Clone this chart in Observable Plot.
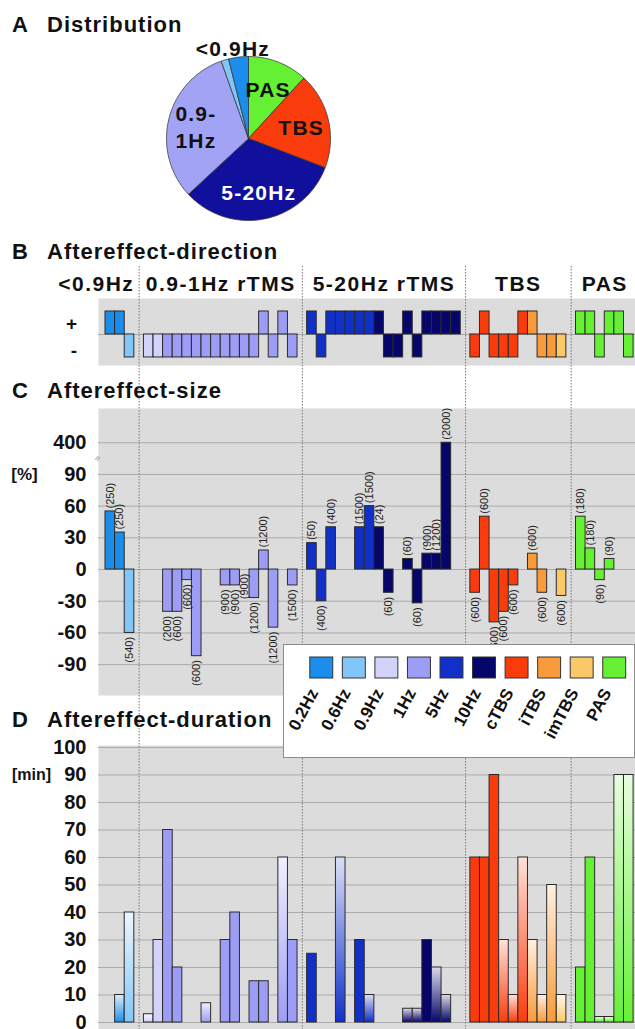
<!DOCTYPE html>
<html><head><meta charset="utf-8">
<script src="https://cdn.jsdelivr.net/npm/d3@7"></script>
<script src="https://cdn.jsdelivr.net/npm/@observablehq/plot@0.6"></script>
<style>
html,body{margin:0;padding:0;background:#fff;}
#page{position:relative;width:635px;height:1029px;overflow:hidden;font-family:"Liberation Sans",Arial,Helvetica,sans-serif;color:#111;}
.layer{position:absolute;left:0;}
.layer svg{overflow:visible;display:block;}
.title{position:absolute;font-weight:bold;font-size:22px;line-height:1;white-space:nowrap;letter-spacing:1px;color:#111;}
#legend{position:absolute;left:283px;top:644px;width:350px;height:112px;border:1px solid #8c8c8c;background:#fff;}
#legend svg{display:block;overflow:visible;}
</style></head><body><div id="page"></div>
<script>
// ---------------- DATA ----------------
const typeNames  = ["0.2Hz","0.6Hz","0.9Hz","1Hz","5Hz","10Hz","cTBS","iTBS","imTBS","PAS"];
const typeColors = ["#1a8eea","#82c6f8","#d2d2fb","#9d9df5","#1030c8","#06066a","#fa3c0c","#f99b3a","#fbc869","#66f034"];

// study type per x slot (null = gap between groups)
const studyType = [
  "0.2Hz","0.2Hz","0.6Hz", null,
  "0.9Hz","0.9Hz","1Hz","1Hz","1Hz","1Hz","1Hz","1Hz","1Hz","1Hz","1Hz","1Hz","1Hz","1Hz","1Hz","1Hz", null,
  "5Hz","5Hz","5Hz","5Hz","5Hz","5Hz","5Hz","10Hz","10Hz","10Hz","10Hz","10Hz","10Hz","10Hz","10Hz","10Hz", null,
  "cTBS","cTBS","cTBS","cTBS","cTBS","cTBS","iTBS","iTBS","iTBS","imTBS", null,
  "PAS","PAS","PAS","PAS","PAS","PAS"
];

const groupNames = ["<0.9Hz","0.9-1Hz rTMS","5-20Hz rTMS","TBS","PAS"];
const groupFirst = [0, 4, 21, 38, 49];
const groupLast  = [2, 19, 36, 47, 54];

// B: aftereffect direction (+1 / -1)
const direction = [
  1,1,-1, null,
  -1,-1,-1,-1,-1,-1,-1,-1,-1,-1,-1,-1,1,-1,1,-1, null,
  1,-1,1,1,1,1,1,1,-1,-1,1,-1,1,1,1,1, null,
  -1,1,-1,-1,-1,1,1,-1,-1,-1, null,
  1,1,-1,1,1,-1
];
const dirTickLabels = ["+","-"];

// C: aftereffect size [%] with number of stimuli
const sizeSlots   = [0,1,2, 6,7,8,9,12,13,14,15,16,17,19, 21,22,23,26,27,28,29,31,32,33,34,35, 38,39,40,41,42,44,45,47, 49,50,51,52];
const sizeValues  = [55,35,-60, -40,-40,-10,-82,-15,-15,0,-27,18,-55,-15, 25,-30,40,40,60,40,-22,10,-32,15,15,400, -22,50,-50,-40,-15,15,-22,-25, 50,20,-10,10];
const sizeStimuli = ["(250)","(250)","(540)", "(200)","(600)","(600)","(600)","(900)","(900)","(900)","(1200)","(1200)","(1200)","(1500)",
  "(50)","(400)","(400)","(1500)","(1500)","(24)","(60)","(60)","(60)","(900)","(1200)","(2000)",
  "(600)","(600)","(600)","(600)","(600)","(600)","(600)","(600)", "(180)","(180)","(90)","(90)"];
const sizeTicks = [-90,-60,-30,0,30,60,90,400];
const sizeUnit = "[%]";

// D: aftereffect duration [min]; open = shown faded
const durSlots  = [1,2,4,5,6,7,10,12,13,15,16,18,19, 21,24,26,27,31,32,33,34,35, 38,39,40,41,42,43,44,45,46,47, 49,50,51,52,53,54];
const durValues = [10,40,3,30,70,20,7,30,40,15,15,60,30, 25,60,30,10,5,5,30,20,10, 60,60,90,30,10,60,30,10,50,10, 20,60,2,2,90,90];
const durOpen   = [1,1,1,0,0,0,1,0,0,0,0,1,0, 0,1,0,1,1,1,0,1,1, 0,0,0,1,1,1,1,1,1,1, 0,0,1,1,1,1];
const durTicks = [0,10,20,30,40,50,60,70,80,90,100];
const durUnit = "[min]";

// A: distribution (share of studies, clockwise from top)
const pieNames  = ["PAS","TBS","5-20Hz","0.9-1Hz","0.6Hz","0.2Hz"];
const pieShares = [11.8, 19.0, 32.3, 31.5, 1.5, 3.9];
const pieColors = ["#66f034","#fa3c0c","#10109c","#a3a3f5","#82c6f8","#1a8eea"];
const pieLabels = ["PAS","TBS","5-20Hz","0.9-\n1Hz","<0.9Hz","<0.9Hz"];

// ---------------- HELPERS ----------------
const FONT = '"Liberation Sans", Arial, Helvetica, sans-serif';
const page = document.getElementById("page");
const colorOf = t => typeColors[typeNames.indexOf(t)];
function place(node, left, top) {
  const div = document.createElement("div");
  div.className = "layer"; div.style.left = left + "px"; div.style.top = top + "px";
  div.appendChild(node); page.appendChild(div); return div;
}
function title(letter, text, baseline) {
  const top = baseline - 18.6;
  [[letter, 12], [text, 47]].forEach(([s, x]) => {
    const d = document.createElement("div");
    d.className = "title"; d.style.left = x + "px"; d.style.top = top + "px"; d.textContent = s;
    page.appendChild(d);
  });
}
const xScale = {domain: [-0.73, 55.2], axis: null};
const brk = v => v <= 90 ? v : 90 + (v - 90) * 30 / 310;   // broken axis above 90
const groups = groupNames.map((n, i) => ({name: n, first: groupFirst[i], last: groupLast[i]}));
const separators = groups.slice(0, -1).map(g => g.last + 1.5);

// ---------------- A: PIE ----------------
{
  const R = 100 / 82;
  const arcs = d3.pie().sort(null)(pieShares);
  const sliceMarks = arcs.map((a, i) => {
    const pts = [{x: 0, y: 0}];
    const n = Math.max(2, Math.ceil((a.endAngle - a.startAngle) / 0.02));
    for (let k = 0; k <= n; k++) {
      const t = a.startAngle + (a.endAngle - a.startAngle) * k / n;
      pts.push({x: Math.sin(t), y: Math.cos(t)});
    }
    pts.push({x: 0, y: 0});
    return Plot.line(pts, {x: "x", y: "y", fill: pieColors[i], stroke: "#3a3a3a", strokeWidth: 0.8, strokeLinejoin: "round"});
  });
  const labelGroups = [];
  pieLabels.forEach((lab, i) => {
    let g = labelGroups.find(d => d.text === lab);
    if (!g) { g = {text: lab, a0: arcs[i].startAngle, a1: arcs[i].endAngle, share: 0, color: pieColors[i]}; labelGroups.push(g); }
    g.a0 = Math.min(g.a0, arcs[i].startAngle); g.a1 = Math.max(g.a1, arcs[i].endAngle); g.share += pieShares[i];
  });
  labelGroups.forEach(g => {
    const m = (g.a0 + g.a1) / 2, r = g.share < 8 ? 1.13 : 0.66;
    g.x = Math.sin(m) * r; g.y = Math.cos(m) * r;
    g.fill = (g.share < 8 || d3.hsl(g.color).l > 0.4) ? "#111" : "#fff";
  });
  const pie = Plot.plot({
    width: 200, height: 200, margin: 0,
    x: {domain: [-R, R], axis: null}, y: {domain: [-R, R], axis: null},
    color: {type: "identity"},
    style: {fontFamily: FONT, overflow: "visible", letterSpacing: "1.2px"},
    marks: [
      ...sliceMarks,
      Plot.text(labelGroups, {x: "x", y: "y", text: "text", fill: "fill", fontSize: 21, fontWeight: "bold", lineHeight: 1.3})
    ]
  });
  place(pie, 148, 38);
}
title("A", "Distribution", 33);

// ---------------- B: DIRECTION ----------------
title("B", "Aftereffect-direction", 260);
{
  const dirData = direction.map((d, i) => ({slot: i, dir: d, type: studyType[i]})).filter(d => d.dir != null);
  const B = Plot.plot({
    width: 635, height: 97, marginLeft: 98, marginRight: 0, marginTop: 30, marginBottom: 0,
    x: xScale,
    y: {domain: [-1.35, 1.565], ticks: [0.45, -0.7], tickFormat: d => d > 0 ? dirTickLabels[0] : dirTickLabels[1], tickSize: 0, tickPadding: 20, label: null},
    color: {type: "identity"},
    style: {fontFamily: FONT, fontSize: "19px", fontWeight: "bold", letterSpacing: "1.5px", overflow: "visible", color: "#111"},
    marks: [
      Plot.frame({fill: "#dcdcdc", stroke: "none"}),
      Plot.ruleY([0], {stroke: "#a8a8a8"}),
      Plot.rect(dirData, {x1: "slot", x2: d => d.slot + 1, y1: 0, y2: "dir", fill: d => colorOf(d.type), stroke: "#2b2b2b", strokeWidth: 1}),
      Plot.text(groups.filter(g => g.last - g.first >= 4), {x: g => (g.first + g.last + 1) / 2, frameAnchor: "top", dy: -8, lineAnchor: "bottom", text: "name", fontSize: 21, fontWeight: "bold"}),
      Plot.text(groups.filter(g => g.last - g.first < 4), {x: g => g.last + 1, frameAnchor: "top", dy: -8, lineAnchor: "bottom", textAnchor: "end", text: "name", fontSize: 21, fontWeight: "bold"})
    ]
  });
  place(B, 0, 268);
}

// ---------------- C: SIZE ----------------
title("C", "Aftereffect-size", 399);
{
  const sizeData = sizeSlots.map((s, i) => ({slot: s, value: sizeValues[i], label: sizeStimuli[i], color: colorOf(studyType[s])}));
  const tickPos = sizeTicks.map(brk);
  const C = Plot.plot({
    width: 635, height: 287, marginLeft: 98, marginRight: 0, marginTop: 0, marginBottom: 0,
    x: xScale,
    y: {domain: [-119.2, 152.4], ticks: tickPos, tickFormat: d => String(sizeTicks[tickPos.indexOf(d)]), tickSize: 0, tickPadding: 12, label: null},
    color: {type: "identity"},
    style: {fontFamily: FONT, fontSize: "20px", fontWeight: "bold", overflow: "visible", color: "#111"},
    marks: [
      Plot.frame({fill: "#dcdcdc", stroke: "none"}),
      Plot.ruleY(tickPos, {stroke: "#ababab"}),
      Plot.rect(sizeData.filter(d => d.value !== 0), {x1: "slot", x2: d => d.slot + 1, y1: 0, y2: d => brk(d.value), fill: "color", stroke: "#2b2b2b", strokeWidth: 1}),
      Plot.text(sizeData.filter(d => d.value > 0), {x: d => d.slot + 0.5, y: d => brk(d.value), text: "label", rotate: -90, textAnchor: "start", dy: -3, fontSize: 11, fontWeight: "normal", fill: "#222"}),
      Plot.text(sizeData.filter(d => d.value <= 0), {x: d => d.slot + 0.5, y: d => brk(d.value), text: "label", rotate: -90, textAnchor: "end", dy: 4, fontSize: 11, fontWeight: "normal", fill: "#222"}),
      Plot.text([{t: sizeUnit, v: 90}], {frameAnchor: "left", y: "v", text: "t", dx: -74, textAnchor: "middle", fontSize: 17}),
      Plot.text([{t: "≈", v: (brk(90) + brk(400)) / 2}], {frameAnchor: "left", y: "v", text: "t", dx: -1, textAnchor: "middle", rotate: -60, fontSize: 10, fontWeight: "normal", fill: "#888"})
    ]
  });
  place(C, 0, 408);
}

// ---------------- D: DURATION ----------------
title("D", "Aftereffect-duration", 728);
{
  const durData = durSlots.map((s, i) => ({slot: s, value: durValues[i], open: durOpen[i] === 1, type: studyType[s]}));
  const defs = () => {
    const d = d3.create("svg:defs");
    typeNames.forEach((t, i) => {
      const g = d.append("linearGradient").attr("id", "fade" + i).attr("x1", 0).attr("y1", 0).attr("x2", 0).attr("y2", 1);
      g.append("stop").attr("offset", "0%").attr("stop-color", d3.interpolateRgb(typeColors[i], "#ffffff")(0.85));
      g.append("stop").attr("offset", "100%").attr("stop-color", typeColors[i]);
    });
    return d.node();
  };
  const D = Plot.plot({
    width: 635, height: 284, marginLeft: 98, marginRight: 0, marginTop: 0, marginBottom: 0,
    x: xScale,
    y: {domain: [-2.545, 100.727], ticks: durTicks, tickSize: 0, tickPadding: 12, label: null},
    color: {type: "identity"},
    style: {fontFamily: FONT, fontSize: "20px", fontWeight: "bold", overflow: "visible", color: "#111"},
    marks: [
      defs,
      Plot.frame({fill: "#dcdcdc", stroke: "none"}),
      Plot.ruleY(durTicks, {stroke: "#ababab"}),
      Plot.rect(durData, {x1: "slot", x2: d => d.slot + 1, y1: 0, y2: "value",
        fill: d => d.open ? `url(#fade${typeNames.indexOf(d.type)})` : colorOf(d.type), stroke: "#2b2b2b", strokeWidth: 1}),
      Plot.text([{t: durUnit, v: 90}], {frameAnchor: "left", y: "v", text: "t", dx: -67, textAnchor: "middle", fontSize: 16})
    ]
  });
  place(D, 0, 745);
}

// ---------------- group separators ----------------
{
  const S = Plot.plot({
    width: 635, height: 763, marginLeft: 98, marginRight: 0, marginTop: 0, marginBottom: 0,
    x: xScale,
    marks: [Plot.ruleX(separators, {stroke: "#777", strokeDasharray: "1.5,1.5", strokeWidth: 1})]
  });
  const div = place(S, 0, 266);
  div.style.pointerEvents = "none";
}

// ---------------- legend ----------------
{
  const L = Plot.plot({
    width: 350, height: 112, marginLeft: 21, marginRight: 3.5, marginTop: 12, marginBottom: 79,
    x: {type: "band", domain: typeNames, padding: 0, round: false, axis: null},
    color: {type: "identity"},
    style: {fontFamily: FONT, overflow: "visible", color: "#111"},
    marks: [
      Plot.cell(typeNames, {x: d => d, fill: d => colorOf(d), stroke: "#333", strokeWidth: 1, insetLeft: 4.8, insetRight: 4.8}),
      Plot.text(typeNames, {x: d => d, text: d => d, frameAnchor: "bottom", dy: 14, dx: -3, rotate: -62, textAnchor: "end", fontSize: 17, fontWeight: "bold"})
    ]
  });
  const box = document.createElement("div");
  box.id = "legend"; box.appendChild(L); page.appendChild(box);
}
</script></body></html>
